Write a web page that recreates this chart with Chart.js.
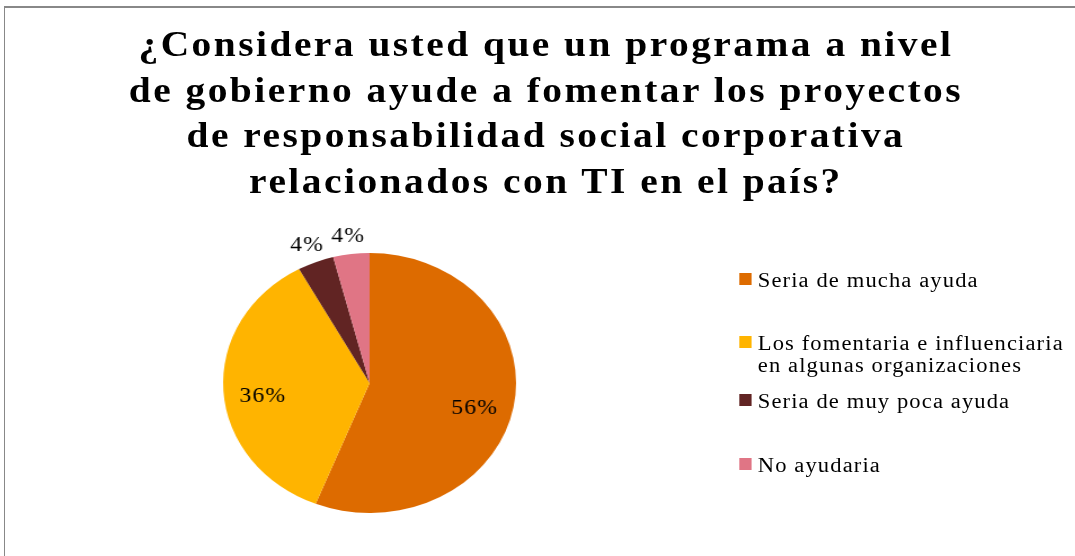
<!DOCTYPE html>
<html lang="es">
<head>
    <meta charset="UTF-8">
    <title>Programa de gobierno y RSC</title>
    <script src="https://cdn.jsdelivr.net/npm/chart.js"></script>
    <style>
        html, body {
            margin: 0;
            padding: 0;
            background: #fff;
            overflow: hidden;
        }
        .frame {
            position: absolute;
            left: 4px;
            top: 6px;
            width: 1090px;
            height: 570px;
            border: 1px solid #888;
            border-top-width: 2px;
        }
        /* the original picture is stretched sideways a little */
        .stage {
            position: absolute;
            left: 0;
            top: 0;
            width: 954px;
            height: 556px;
            transform: scaleX(1.1268);
            transform-origin: 0 0;
            font-family: "Liberation Serif", "Times New Roman", serif;
            color: #000;
        }
        .title {
            position: absolute;
            left: 1px;
            top: 22px;
            width: 967px;
            text-align: center;
            font-weight: bold;
            font-size: 35px;
            line-height: 45.5px;
            letter-spacing: 2.2px;
        }
        #pie {
            position: absolute;
            left: 0;
            top: 0;
        }
        .legend-item {
            position: absolute;
            left: 656px;
            font-size: 20px;
            line-height: 22px;
            letter-spacing: 1px;
            white-space: nowrap;
        }
        .legend-item .box {
            position: absolute;
            left: 0;
            top: 3.5px;
            width: 10.7px;
            height: 12px;
        }
        .legend-item .text {
            margin-left: 16.5px;
        }
    </style>
</head>
<body>
    <div class="frame"></div>
    <div class="stage">
        <div class="title" id="title"></div>
        <canvas id="pie" width="954" height="556"></canvas>
        <div id="legend"></div>
    </div>

    <script>
const titleLines = [
    '¿Considera usted que un programa a nivel',
    'de gobierno ayude a fomentar los proyectos',
    'de responsabilidad social corporativa',
    'relacionados con TI en el país?'
];
const categories = [
    ['Seria de mucha ayuda'],
    ['Los fomentaria e influenciaria', 'en algunas organizaciones'],
    ['Seria de muy poca ayuda'],
    ['No ayudaria']
];
const percents = [56, 36, 4, 4];
const colors = ['#DD6B00', '#FFB400', '#612423', '#E07585'];

// legend rows (top of each block)
const legendTops = [269, 332, 390, 454];

document.getElementById('title').innerHTML = titleLines.join('<br>');

const legend = document.getElementById('legend');
categories.forEach((lines, i) => {
    const item = document.createElement('div');
    item.className = 'legend-item';
    item.style.top = legendTops[i] + 'px';
    item.innerHTML = '<div class="box" style="background:' + colors[i] + '"></div>' +
        '<div class="text">' + lines.join('<br>') + '</div>';
    legend.appendChild(item);
});

const pctLabels = {
    id: 'pctLabels',
    afterDatasetsDraw(chart) {
        const ctx = chart.ctx;
        const meta = chart.getDatasetMeta(0);
        ctx.save();
        ctx.fillStyle = '#000';
        ctx.font = '21px "Liberation Serif", serif';
        ctx.letterSpacing = '1px';
        ctx.textAlign = 'center';
        ctx.textBaseline = 'middle';
        meta.data.forEach((arc, i) => {
            const p = arc.getProps(['x', 'y', 'startAngle', 'endAngle', 'outerRadius'], true);
            const mid = (p.startAngle + p.endAngle) / 2;
            const small = percents[i] < 10;
            const f = small ? 1.16 : 0.73;
            // excel nudges the big labels a bit downwards
            const x = p.x + Math.cos(mid) * p.outerRadius * f;
            const y = p.y + Math.sin(mid) * p.outerRadius * f + (small ? 3 : 8);
            ctx.fillText(percents[i] + '%', x, y);
        });
        ctx.restore();
    }
};

new Chart(document.getElementById('pie'), {
    type: 'pie',
    data: {
        labels: categories.map(c => c.join(' ')),
        datasets: [{
            data: percents,
            backgroundColor: colors,
            borderWidth: 0
        }]
    },
    options: {
        responsive: false,
        animation: false,
        devicePixelRatio: 1,
        layout: { padding: { left: 198, right: 496, top: 253, bottom: 43 } },
        plugins: {
            legend: { display: false },
            title: { display: false },
            tooltip: { enabled: false }
        }
    },
    plugins: [pctLabels]
});
</script>
</body>
</html>
